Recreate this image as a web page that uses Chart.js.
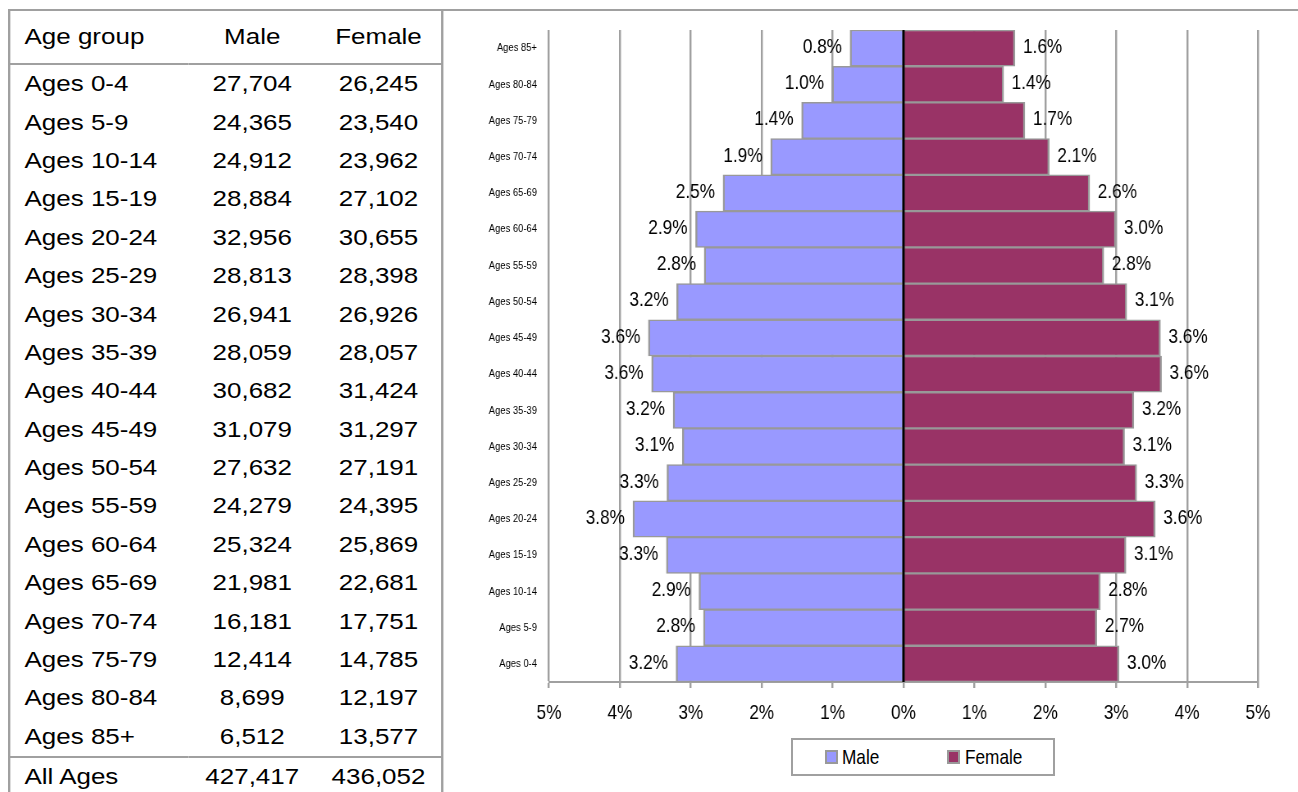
<!DOCTYPE html>
<html>
<head>
<meta charset="utf-8">
<style>
  body { margin: 0; background: #fff; width: 1298px; height: 792px; overflow: hidden; position: relative; font-family: "Liberation Sans", Arial, sans-serif; }
  #topLine { position: absolute; left: 8px; top: 9px; width: 1290px; height: 2px; background: #a0a0a0; }
  #tableWrap { position: absolute; left: 8px; top: 9px; transform: scaleX(1.18); transform-origin: 0 0; }
  table { border-collapse: collapse; table-layout: fixed; width: 367px; border: 2px solid #a0a0a0; font-size: 22px; color: #000; }
  td { padding: 0; white-space: nowrap; vertical-align: middle; }
  td.name { padding-left: 12px; text-align: left; }
  td.num { text-align: center; }
  tr.head td { height: 52px; border-bottom: 2px solid #a0a0a0; }
  tr.row td { height: 38.4px; }
  tr.foot td { height: 38px; border-top: 2px solid #a0a0a0; }
  #chartBox { position: absolute; left: 450px; top: 12px; width: 848px; height: 780px; }
  /* canvas is drawn wider and squeezed to 848px, which gives the narrow lettering of the original */
  #pyramid { width: 848px !important; height: 780px !important; display: block; }
  #legend { position: absolute; left: 791px; top: 738px; width: 264px; height: 38px; box-sizing: border-box; border: 2px solid #a0a0a0; background: #fff;
            font-family: "Liberation Sans", Arial, sans-serif; font-size: 21px; }
  #legend .sw { position: absolute; top: 10px; width: 13px; height: 14px; box-sizing: border-box; border: 2px solid #999; }
  #legend .lb { position: absolute; top: 0; line-height: 34px; transform: scaleX(0.82); transform-origin: 0 0; }
</style>
</head>
<body>
<div id="topLine"></div>
<div id="tableWrap">
  <table id="popTable">
    <colgroup><col style="width:152px"><col style="width:108px"><col style="width:107px"></colgroup>
    <tr class="head"><td class="name">Age group</td><td class="num">Male</td><td class="num">Female</td></tr>
  </table>
</div>
<div id="chartBox"><canvas id="pyramid" width="1034" height="780" style="width:848px;height:780px"></canvas></div>
<div id="legend">
  <span class="sw" style="left:32px;background:#9999ff"></span><span class="lb" style="left:49px">Male</span>
  <span class="sw" style="left:154px;background:#993366"></span><span class="lb" style="left:172px">Female</span>
</div>

<script src="https://cdn.jsdelivr.net/npm/chart.js"></script>
<script>
  const ageGroups = ["Ages 0-4", "Ages 5-9", "Ages 10-14", "Ages 15-19", "Ages 20-24", "Ages 25-29",
    "Ages 30-34", "Ages 35-39", "Ages 40-44", "Ages 45-49", "Ages 50-54", "Ages 55-59",
    "Ages 60-64", "Ages 65-69", "Ages 70-74", "Ages 75-79", "Ages 80-84", "Ages 85+"];

  const maleCounts = [27704, 24365, 24912, 28884, 32956, 28813, 26941, 28059, 30682,
    31079, 27632, 24279, 25324, 21981, 16181, 12414, 8699, 6512];
  const femaleCounts = [26245, 23540, 23962, 27102, 30655, 28398, 26926, 28057, 31424,
    31297, 27191, 24395, 25869, 22681, 17751, 14785, 12197, 13577];
  const maleTotal = 427417;
  const femaleTotal = 436052;

  // share of the whole population, in %
  const malePct = [3.2085, 2.8218, 2.8851, 3.3451, 3.8167, 3.3369, 3.1201, 3.2496, 3.5533,
    3.5993, 3.2001, 2.8118, 2.9328, 2.5457, 1.8740, 1.4377, 1.0074, 0.7542];
  const femalePct = [3.0395, 2.7262, 2.7751, 3.1387, 3.5502, 3.2888, 3.1184, 3.2493, 3.6393,
    3.6246, 3.1490, 2.8252, 2.9959, 2.6267, 2.0558, 1.7123, 1.4126, 1.5724];

  const axisMin = -5;
  const axisMax = 5;

  // table
  const fmt = (n) => n.toLocaleString("en-US");
  const table = document.getElementById("popTable");
  ageGroups.forEach((g, i) => {
    const tr = document.createElement("tr");
    tr.className = "row";
    tr.innerHTML = `<td class="name">${g}</td><td class="num">${fmt(maleCounts[i])}</td><td class="num">${fmt(femaleCounts[i])}</td>`;
    table.appendChild(tr);
  });
  const foot = document.createElement("tr");
  foot.className = "foot";
  foot.innerHTML = `<td class="name">All Ages</td><td class="num">${fmt(maleTotal)}</td><td class="num">${fmt(femaleTotal)}</td>`;
  table.appendChild(foot);

  const font = '"Liberation Sans", Arial, sans-serif';
  const sx = 1034 / 848; // canvas units per screen px, horizontally

  // zero line + value labels
  const barLabels = {
    id: "barLabels",
    afterDatasetsDraw(chart) {
      const ctx = chart.ctx;
      const area = chart.chartArea;
      const x0 = chart.scales.x.getPixelForValue(0);
      ctx.save();
      ctx.strokeStyle = "#000";
      ctx.lineWidth = 2.5 * sx;
      ctx.beginPath();
      ctx.moveTo(x0, area.top);
      ctx.lineTo(x0, area.bottom);
      ctx.stroke();

      ctx.font = "21px " + font;
      ctx.fillStyle = "#000";
      ctx.textBaseline = "middle";
      chart.data.datasets.forEach((ds, i) => {
        chart.getDatasetMeta(i).data.forEach((bar, j) => {
          const v = ds.data[j];
          const text = Math.abs(v).toFixed(1) + "%";
          if (v < 0) {
            ctx.textAlign = "right";
            ctx.fillText(text, bar.x - 8 * sx, bar.y - 1);
          } else {
            ctx.textAlign = "left";
            ctx.fillText(text, bar.x + 8 * sx, bar.y - 1);
          }
        });
      });
      ctx.restore();
    },
  };

  const barBorder = { top: 1.5, bottom: 1.5, left: 2 * sx, right: 2 * sx };

  new Chart(document.getElementById("pyramid"), {
    type: "bar",
    data: {
      labels: ageGroups,
      datasets: [
        {
          label: "Male",
          data: malePct.map((v) => -v),
          backgroundColor: "#9999ff",
          borderColor: "#999999",
          borderWidth: barBorder,
        },
        {
          label: "Female",
          data: femalePct,
          backgroundColor: "#993366",
          borderColor: "#999999",
          borderWidth: barBorder,
        },
      ],
    },
    plugins: [barLabels],
    options: {
      indexAxis: "y",
      responsive: false,
      animation: false,
      devicePixelRatio: 1,
      barPercentage: 1,
      categoryPercentage: 1,
      layout: { padding: { top: 18, right: 40 * sx, left: 0, bottom: 0 } },
      plugins: {
        legend: { display: false },
        tooltip: { enabled: false },
      },
      scales: {
        x: {
          stacked: true,
          min: axisMin,
          max: axisMax,
          afterFit: (s) => { s.height = 110; },
          grid: { color: "#a0a0a0", lineWidth: 2 * sx, tickLength: 6, drawTicks: true },
          border: { display: true, color: "#a0a0a0", width: 2 },
          ticks: {
            stepSize: 1,
            padding: 13,
            color: "#000",
            font: { family: font, size: 21 },
            callback: (v) => Math.abs(v) + "%",
          },
        },
        y: {
          stacked: true,
          reverse: true,
          afterFit: (s) => {
            s.width = 99 * sx;
            s.paddingTop = 0;
            s.paddingBottom = 0;
          },
          grid: { display: false, drawTicks: false },
          border: { display: false },
          ticks: {
            padding: 12 * sx,
            color: "#000",
            font: { family: font, size: 11.5 },
          },
        },
      },
    },
  });
</script>
</body>
</html>
